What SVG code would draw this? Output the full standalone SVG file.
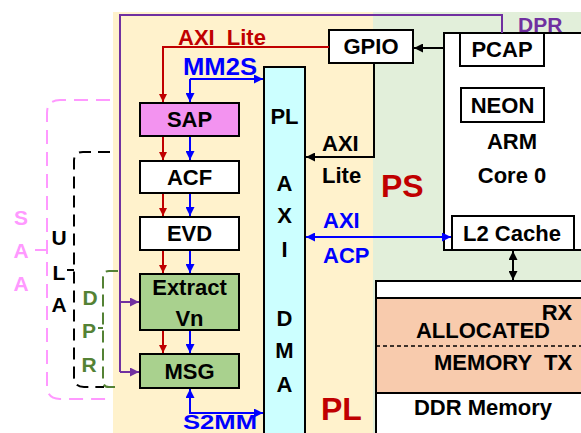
<svg xmlns="http://www.w3.org/2000/svg" width="581" height="433" viewBox="0 0 581 433">
<style>
text{font-family:"Liberation Sans",Arial,sans-serif;font-weight:bold;}
.t{font-size:22px;fill:#000;text-anchor:middle;}
.box{stroke:#000;stroke-width:2;}
.red{stroke:#C00000;stroke-width:2;fill:none;}
.blue{stroke:#0000FF;stroke-width:2;fill:none;}
.blk{stroke:#000;stroke-width:2;fill:none;}
.pur{stroke:#7030A0;stroke-width:2;fill:none;}
</style>
<defs>
<marker id="mr" viewBox="0 0 10 10" refX="10" refY="5" markerWidth="8" markerHeight="9" orient="auto" markerUnits="userSpaceOnUse"><path d="M0,0 L10,5 L0,10 z" fill="#C00000"/></marker>
<marker id="mb" viewBox="0 0 10 10" refX="10" refY="5" markerWidth="9" markerHeight="9" orient="auto-start-reverse" markerUnits="userSpaceOnUse"><path d="M0,0 L10,5 L0,10 z" fill="#0000FF"/></marker>
<marker id="mk" viewBox="0 0 10 10" refX="10" refY="5" markerWidth="9" markerHeight="9" orient="auto-start-reverse" markerUnits="userSpaceOnUse"><path d="M0,0 L10,5 L0,10 z" fill="#000"/></marker>
<marker id="mp" viewBox="0 0 10 10" refX="10" refY="5" markerWidth="10" markerHeight="9" orient="auto" markerUnits="userSpaceOnUse"><path d="M0,0 L10,5 L0,10 z" fill="#7030A0"/></marker>
</defs>
<rect width="581" height="433" fill="#fff"/>
<g id="regions">
<rect x="113" y="12" width="260" height="421" fill="#FFF2CC"/>
<rect x="373" y="12" width="208" height="421" fill="#E2EFDA"/>
</g>
<g id="brackets" fill="none">
<path d="M110,100 H60 Q47,100 47,113 V386 Q47,399 60,399 H112 M35,250 H47" stroke="#FF99FF" stroke-width="2" stroke-dasharray="14,8"/>
<path d="M110,152 H83 Q74,152 74,161 V377 Q74,387 84,387 H104 M67,270 H74" stroke="#000" stroke-width="2" stroke-dasharray="12,7"/>
<path d="M118,271 H109 Q103,271 103,277 V381 Q103,387 109,387 H118 M98,328 H103" stroke="#548235" stroke-width="2" stroke-dasharray="12,6"/>
</g>
<g id="bracket-labels">
<text x="21" y="225" font-size="21" fill="#FF99FF" text-anchor="middle">S</text>
<text x="21" y="258" font-size="21" fill="#FF99FF" text-anchor="middle">A</text>
<text x="21" y="291" font-size="21" fill="#FF99FF" text-anchor="middle">A</text>
<text x="59" y="245" font-size="21" fill="#000" text-anchor="middle">U</text>
<text x="59" y="280" font-size="21" fill="#000" text-anchor="middle">L</text>
<text x="59" y="312" font-size="21" fill="#000" text-anchor="middle">A</text>
<text x="90" y="305" font-size="21" fill="#548235" text-anchor="middle">D</text>
<text x="89" y="338" font-size="21" fill="#548235" text-anchor="middle">P</text>
<text x="89" y="372" font-size="21" fill="#548235" text-anchor="middle">R</text>
</g>
<g id="arm">
<rect x="444" y="33" width="145" height="217" fill="#fff" class="box"/>
<text class="t" x="512" y="149">ARM</text>
<text class="t" x="512" y="183">Core 0</text>
</g>
<g id="pcap"><rect x="460" y="33" width="84" height="33" fill="#fff" class="box"/><text class="t" x="502" y="57">PCAP</text></g>
<g id="neon"><rect x="461" y="88" width="83" height="34" fill="#fff" class="box"/><text class="t" x="502.5" y="113">NEON</text></g>
<g id="l2cache"><rect x="452" y="216" width="122" height="34" fill="#fff" class="box"/><text class="t" x="512" y="241">L2 Cache</text></g>
<g id="gpio"><rect x="329" y="30" width="84" height="33" fill="#fff" class="box"/><text class="t" x="371" y="54">GPIO</text></g>
<g id="ddr">
<rect x="376" y="281" width="215" height="160" fill="#fff" class="box"/>
<rect x="376" y="298" width="215" height="95" fill="#F8CBAD" class="box"/>
<line x1="376" y1="346" x2="581" y2="346" stroke="#000" stroke-width="1.5" stroke-dasharray="4,3"/>
<text class="t" x="483" y="338">ALLOCATED</text>
<text class="t" x="483" y="370">MEMORY</text>
<text class="t" x="557" y="320" text-anchor="start">RX</text>
<text class="t" x="558" y="370" text-anchor="start">TX</text>
<text class="t" x="483" y="415" font-size="23">DDR Memory</text>
</g>
<g id="axidma">
<rect x="264" y="67" width="41" height="380" fill="#CCFFFF" class="box"/>
<text class="t" x="284.5" y="124">PL</text>
<text class="t" x="284.5" y="191">A</text>
<text class="t" x="284.5" y="223">X</text>
<text class="t" x="284.5" y="257">I</text>
<text class="t" x="284.5" y="326">D</text>
<text class="t" x="284.5" y="358">M</text>
<text class="t" x="284.5" y="392">A</text>
</g>
<g id="sap"><rect x="140" y="103" width="99" height="33" fill="#F393F0" class="box"/><text class="t" x="189.5" y="127">SAP</text></g>
<g id="acf"><rect x="140" y="161" width="99" height="32" fill="#fff" class="box"/><text class="t" x="189.5" y="185">ACF</text></g>
<g id="evd"><rect x="140" y="217" width="99" height="33" fill="#fff" class="box"/><text class="t" x="189.5" y="241">EVD</text></g>
<g id="extract"><rect x="140" y="274" width="99" height="56" fill="#A9D18E" class="box"/><text class="t" x="189.5" y="295">Extract</text><text class="t" x="189.5" y="326">Vn</text></g>
<g id="msg"><rect x="140" y="354" width="99" height="34" fill="#A9D18E" class="box"/><text class="t" x="189.5" y="379">MSG</text></g>
<g id="connectors">
<path class="pur" d="M502,33 V15 H120 V372"/>
<path class="pur" d="M120,302 H139" marker-end="url(#mp)"/>
<path class="pur" d="M120,372 H139" marker-end="url(#mp)"/>
<path class="red" d="M329,47 H163 V102" marker-end="url(#mr)"/>
<path class="blue" d="M190,79 H263" marker-end="url(#mb)"/>
<path class="blue" d="M190,79 V102" marker-end="url(#mb)"/>
<path class="red" d="M163,137 V160" marker-end="url(#mr)"/>
<path class="blue" d="M190,137 V160" marker-end="url(#mb)"/>
<path class="red" d="M163,194 V216" marker-end="url(#mr)"/>
<path class="blue" d="M190,194 V216" marker-end="url(#mb)"/>
<path class="red" d="M163,251 V273" marker-end="url(#mr)"/>
<path class="blue" d="M190,251 V273" marker-end="url(#mb)"/>
<path class="red" d="M163,331 V353" marker-end="url(#mr)"/>
<path class="blue" d="M190,331 V353" marker-end="url(#mb)"/>
<path class="blue" d="M190,389 V413 H263" marker-start="url(#mb)" marker-end="url(#mb)"/>
<path class="blk" d="M444,48 H414" marker-end="url(#mk)"/>
<path class="blk" d="M374,63 V157 H306" marker-end="url(#mk)"/>
<path class="blue" d="M306,237 H451" marker-start="url(#mb)" marker-end="url(#mb)"/>
<path class="blk" d="M513,251 V280" marker-start="url(#mk)" marker-end="url(#mk)"/>
</g>
<g id="labels">
<text x="178" y="45" font-size="22" fill="#C00000" word-spacing="6">AXI Lite</text>
<text x="183" y="75" font-size="23" fill="#0000FF" textLength="74" lengthAdjust="spacingAndGlyphs">MM2S</text>
<text x="183" y="429" font-size="21" fill="#0000FF" textLength="74" lengthAdjust="spacingAndGlyphs">S2MM</text>
<text x="322" y="151" font-size="22" fill="#000">AXI</text>
<text x="322" y="183" font-size="22" fill="#000">Lite</text>
<text x="323" y="228" font-size="22" fill="#0000FF">AXI</text>
<text x="323" y="263" font-size="22" fill="#0000FF">ACP</text>
<text x="381" y="197" font-size="32" fill="#C00000">PS</text>
<text x="321" y="420" font-size="32" fill="#C00000">PL</text>
<text x="518" y="32" font-size="21" fill="#7030A0">DPR</text>
</g>
</svg>
